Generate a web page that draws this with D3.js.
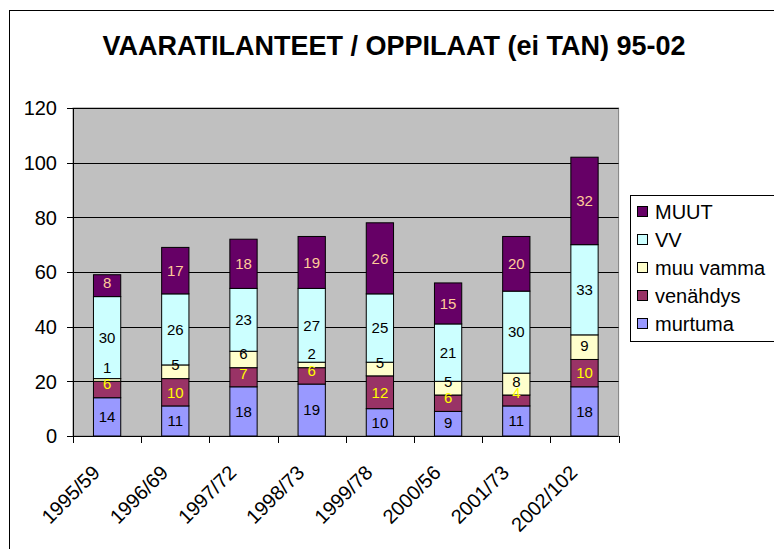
<!DOCTYPE html>
<html>
<head>
<meta charset="utf-8">
<script src="https://cdn.jsdelivr.net/npm/d3@7"></script>
<style>
  body { margin: 0; background: #fff; }
  svg { display: block; font-family: "Liberation Sans", Arial, sans-serif; }
</style>
</head>
<body>
<div id="chart"></div>
<script>
// data
let years = ["1995/59", "1996/69", "1997/72", "1998/73", "1999/78", "2000/56", "2001/73", "2002/102"];
let murtuma = [14, 11, 18, 19, 10, 9, 11, 18];
let venahdys = [6, 10, 7, 6, 12, 6, 4, 10];
let muuVamma = [1, 5, 6, 2, 5, 5, 8, 9];
let vv = [30, 26, 23, 27, 25, 21, 30, 33];
let muut = [8, 17, 18, 19, 26, 15, 20, 32];
let seriesNames = ["murtuma", "venähdys", "muu vamma", "VV", "MUUT"];
let yTicks = [0, 20, 40, 60, 80, 100, 120];

let colors = {
  "murtuma": "#9999FF",
  "venähdys": "#993366",
  "muu vamma": "#FFFFCC",
  "VV": "#CCFFFF",
  "MUUT": "#660066"
};
let labelColors = {
  "murtuma": "#000",
  "venähdys": "#FFFF00",
  "muu vamma": "#000",
  "VV": "#000",
  "MUUT": "#FFCC99"
};

let width = 774, height = 549;
let plot = { left: 73, top: 108, right: 618.6, bottom: 436 };

let rows = years.map(function (y, i) {
  return {
    year: y,
    "murtuma": murtuma[i],
    "venähdys": venahdys[i],
    "muu vamma": muuVamma[i],
    "VV": vv[i],
    "MUUT": muut[i]
  };
});

let svg = d3.select("#chart")
  .append("svg")
  .attr("width", width)
  .attr("height", height);

// chart area border (runs off the right and bottom edges)
svg.append("rect")
  .attr("x", 9.5).attr("y", 10.5)
  .attr("width", 900).attr("height", 700)
  .attr("fill", "#fff")
  .attr("stroke", "#000");

svg.append("text")
  .attr("x", 394).attr("y", 55)
  .attr("text-anchor", "middle")
  .attr("font-size", 27)
  .attr("font-weight", "bold")
  .text("VAARATILANTEET / OPPILAAT (ei TAN) 95-02");

let x = d3.scaleBand()
  .domain(years)
  .range([plot.left, plot.right])
  .paddingInner(0.6)
  .paddingOuter(0.3);

let xCell = d3.scaleBand()
  .domain(years)
  .range([plot.left, plot.right]);

let y = d3.scaleLinear()
  .domain([0, 120])
  .range([plot.bottom, plot.top]);

// plot area
svg.append("rect")
  .attr("x", plot.left).attr("y", plot.top)
  .attr("width", plot.right - plot.left)
  .attr("height", plot.bottom - plot.top)
  .attr("fill", "#C0C0C0")
  .attr("stroke", "#808080");

svg.append("g")
  .selectAll("line")
  .data(yTicks.filter(function (d) { return d > 0; }))
  .enter()
  .append("line")
  .attr("x1", plot.left).attr("x2", plot.right)
  .attr("y1", function (d) { return Math.round(y(d)) + 0.5; })
  .attr("y2", function (d) { return Math.round(y(d)) + 0.5; })
  .attr("stroke", "#000");

// bars
let stacked = d3.stack().keys(seriesNames)(rows);
let segments = [];
stacked.forEach(function (s) {
  s.forEach(function (d) { segments.push({ key: s.key, d: d }); });
});

svg.append("g")
  .selectAll("rect")
  .data(segments)
  .enter()
  .append("rect")
  .attr("x", function (p) { return x(p.d.data.year); })
  .attr("width", x.bandwidth())
  .attr("y", function (p) { return y(p.d[1]); })
  .attr("height", function (p) { return y(p.d[0]) - y(p.d[1]); })
  .attr("fill", function (p) { return colors[p.key]; })
  .attr("stroke", "#000")
  .attr("stroke-width", 1);

// labels on top of all bars; short segments push the label up
svg.append("g")
  .selectAll("text")
  .data(segments)
  .enter()
  .append("text")
  .attr("x", function (p) { return x(p.d.data.year) + x.bandwidth() / 2; })
  .attr("y", function (p) {
    let mid = (y(p.d[0]) + y(p.d[1])) / 2;
    return Math.min(mid, y(p.d[0]) - 13.5);
  })
  .attr("dy", "0.35em")
  .attr("text-anchor", "middle")
  .attr("font-size", 15)
  .attr("fill", function (p) { return labelColors[p.key]; })
  .text(function (p) { return p.d[1] - p.d[0]; });

// y axis
let yAxis = svg.append("g");
yAxis.append("line")
  .attr("x1", plot.left + 0.5).attr("x2", plot.left + 0.5)
  .attr("y1", plot.top).attr("y2", plot.bottom)
  .attr("stroke", "#000");
yAxis.selectAll(".tick")
  .data(yTicks)
  .enter()
  .append("line")
  .attr("x1", plot.left - 6).attr("x2", plot.left)
  .attr("y1", function (d) { return Math.round(y(d)) + 0.5; })
  .attr("y2", function (d) { return Math.round(y(d)) + 0.5; })
  .attr("stroke", "#000");
yAxis.selectAll("text")
  .data(yTicks)
  .enter()
  .append("text")
  .attr("x", 57)
  .attr("y", function (d) { return y(d); })
  .attr("dy", "0.36em")
  .attr("text-anchor", "end")
  .attr("font-size", 20)
  .text(function (d) { return d; });

// x axis
let xAxis = svg.append("g");
xAxis.append("line")
  .attr("x1", plot.left).attr("x2", plot.right)
  .attr("y1", plot.bottom + 0.5).attr("y2", plot.bottom + 0.5)
  .attr("stroke", "#000");
let boundaries = years.map(function (c) { return xCell(c); }).concat([plot.right]);
xAxis.selectAll(".tick")
  .data(boundaries)
  .enter()
  .append("line")
  .attr("x1", function (d) { return Math.round(d) + 0.5; })
  .attr("x2", function (d) { return Math.round(d) + 0.5; })
  .attr("y1", plot.bottom).attr("y2", plot.bottom + 7)
  .attr("stroke", "#000");
xAxis.selectAll("text")
  .data(years)
  .enter()
  .append("text")
  .attr("transform", function (d) {
    return "translate(" + (xCell(d) + xCell.bandwidth() / 2 - 6) + "," + 474 + ") rotate(-45)";
  })
  .attr("text-anchor", "end")
  .attr("font-size", 20)
  .text(function (d) { return d; });

// legend
let legend = svg.append("g");
legend.append("rect")
  .attr("x", 630.5).attr("y", 195.5)
  .attr("width", 200).attr("height", 146)
  .attr("fill", "#fff")
  .attr("stroke", "#000");

let legendItems = legend.selectAll("g")
  .data(seriesNames.slice().reverse())
  .enter()
  .append("g")
  .attr("transform", function (d, i) { return "translate(0," + (212 + i * 28) + ")"; });

legendItems.append("rect")
  .attr("x", 637.5).attr("y", -5.5)
  .attr("width", 10).attr("height", 10)
  .attr("fill", function (d) { return colors[d]; })
  .attr("stroke", "#000");

legendItems.append("text")
  .attr("x", 655)
  .attr("dy", "0.35em")
  .attr("font-size", 20)
  .text(function (d) { return d; });
</script>
</body>
</html>
